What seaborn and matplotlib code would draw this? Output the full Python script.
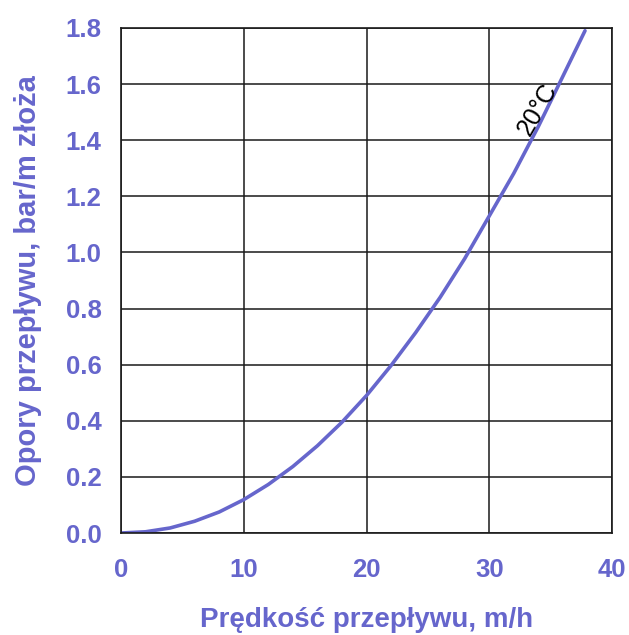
import matplotlib
matplotlib.use("Agg")
import matplotlib.pyplot as plt
import seaborn as sns
import pandas as pd

velocity = [0, 2, 4, 6, 8, 10, 12, 14, 16, 18, 20, 22, 24, 26, 28, 30, 32, 34, 36, 37.8]
resistance = [0, 0.0044, 0.018, 0.042, 0.075, 0.119, 0.173, 0.237, 0.311, 0.395,
              0.49, 0.597, 0.714, 0.84, 0.978, 1.13, 1.282, 1.449, 1.628, 1.79]
x_ticks = [0, 10, 20, 30, 40]
y_ticks = [0.0, 0.2, 0.4, 0.6, 0.8, 1.0, 1.2, 1.4, 1.6, 1.8]
curve_label = "20°C"
x_label = "Prędkość przepływu, m/h"
y_label = "Opory przepływu, bar/m złoża"

color = "#6666CC"
sns.set_theme(style="white")
plt.rcParams['font.family'] = ['Liberation Sans', 'DejaVu Sans']

df = pd.DataFrame({"v": velocity, "r": resistance})
fig = plt.figure(figsize=(6.29, 6.35), dpi=100)
ax = fig.add_axes([0.1924, 0.1606, 0.7806, 0.7954])
sns.lineplot(data=df, x="v", y="r", ax=ax, color=color, linewidth=2.6)

ax.set_xlim(0, 40)
ax.set_ylim(0, 1.8)
ax.set_xticks(x_ticks)
ax.set_yticks(y_ticks)
ax.set_yticklabels([f"{t:.1f}" for t in y_ticks])
ax.grid(True, color="#1a1a1a", linewidth=1.1)
for s in ax.spines.values():
    s.set_color("#1a1a1a")
    s.set_linewidth(1.2)
ax.tick_params(axis="x", length=0, pad=18, labelsize=18.5, labelcolor=color)
ax.tick_params(axis="y", length=0, pad=14, labelsize=18.5, labelcolor=color)
for lab in ax.get_xticklabels() + ax.get_yticklabels():
    lab.set_fontweight("bold")
ax.set_xlabel(x_label, fontsize=20, fontweight="bold", color=color)
ax.set_ylabel(y_label, fontsize=21, fontweight="bold", color=color)
ax.xaxis.set_label_coords(0.5, -0.147)
ax.yaxis.set_label_coords(-0.161, 0.5)
ax.text(33.95, 1.51, curve_label, rotation=60, fontsize=18, color="black",
        ha="center", va="center", rotation_mode="anchor")
fig.savefig("out.png", dpi=100)
